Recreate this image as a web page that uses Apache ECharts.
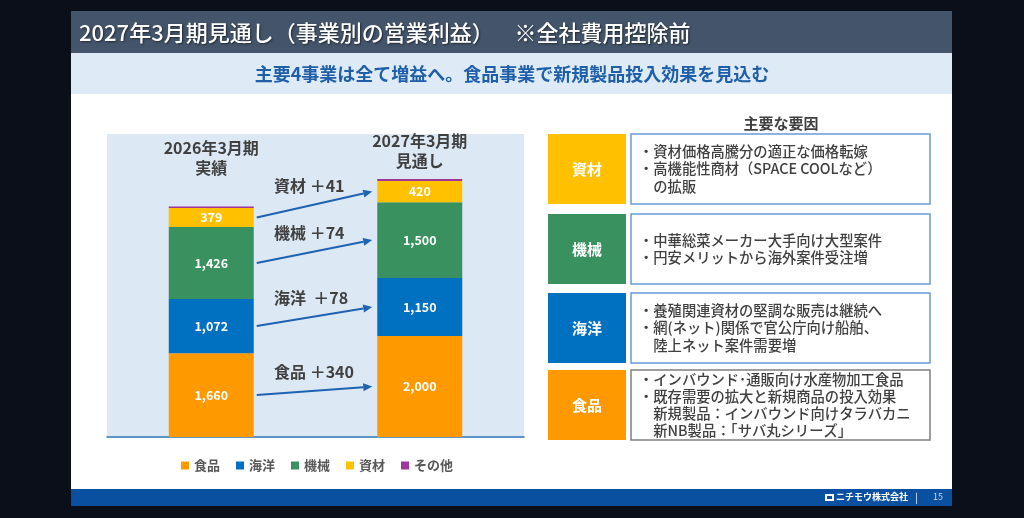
<!DOCTYPE html>
<html>
<head>
<meta charset="utf-8">
<script src="https://cdn.jsdelivr.net/npm/echarts@6/dist/echarts.min.js"></script>
<style>
  html, body { margin: 0; padding: 0; background: #0a0f1a; }
  #main { width: 1024px; height: 518px; }
</style>
</head>
<body>
<div id="main"></div>
<script>
// 期間（カテゴリ）
const periods = ['2026年3月期', '2027年3月期'];
const periodSubs = ['実績', '見通し'];
// 事業別営業利益（百万円）
const segmentNames = ['食品', '海洋', '機械', '資材', 'その他'];
const foodValues = [1660, 2000];
const marineValues = [1072, 1150];
const machineValues = [1426, 1500];
const materialValues = [379, 420];
const otherValues = [28, 40];
const segmentColors = ['#ff9900', '#0070c0', '#3a9160', '#ffc000', '#a0359c'];

// 主要な要因
const factorNames = ['資材', '機械', '海洋', '食品'];
const factorColors = ['#ffc000', '#3a9160', '#0070c0', '#ff9900'];
const factorTexts = [
    ['・資材価格高騰分の適正な価格転嫁', '・高機能性商材（SPACE COOLなど）', '　の拡販'],
    ['・中華総菜メーカー大手向け大型案件', '・円安メリットから海外案件受注増'],
    ['・養殖関連資材の堅調な販売は継続へ', '・網(ネット)関係で官公庁向け船舶、', '　陸上ネット案件需要増'],
    ['・インバウンド･通販向け水産物加工食品', '・既存需要の拡大と新規商品の投入効果', '　新規製品：インバウンド向けタラバカニ', '　新NB製品：「サバ丸シリーズ」']
];

const FONT = '"Noto Sans CJK JP", "Noto Sans", sans-serif';
const chart = echarts.init(document.getElementById('main'));

const seriesValues = [foodValues, marineValues, machineValues, materialValues, otherValues];
const BAR_W = 85;

const series = seriesValues.map((vals, i) => ({
    name: segmentNames[i],
    type: 'bar',
    stack: 'total',
    barWidth: BAR_W,
    data: vals,
    itemStyle: { color: segmentColors[i] },
    label: {
        show: i < 4,
        color: '#fff',
        fontFamily: FONT,
        fontWeight: 'bold',
        fontSize: 12.5,
        formatter: p => p.value.toLocaleString('en-US')
    }
}));

chart.setOption({
    animation: false,
    backgroundColor: '#0a0f1a',
    grid: {
        left: 107, right: 500, top: 134, bottom: 81,
        show: true, backgroundColor: '#dce9f5', borderWidth: 0
    },
    xAxis: {
        type: 'category',
        data: periods,
        axisLine: { show: true, lineStyle: { color: '#2e75b6', width: 1.5 } },
        axisTick: { show: false },
        axisLabel: { show: false }
    },
    yAxis: { type: 'value', min: 0, max: 6000, show: false, splitLine: { show: false } },
    legend: {
        data: segmentNames,
        left: 176, top: 454,
        icon: 'rect', itemWidth: 8, itemHeight: 8, itemGap: 16,
        textStyle: { color: '#595959', fontFamily: FONT, fontSize: 13, fontWeight: 'bold' }
    },
    series: series
});

// 静的な装飾
const graphics = [];
graphics.push({ type: 'rect', z: -100, shape: { x: 71, y: 11, width: 881, height: 495 }, style: { fill: '#ffffff' } });
graphics.push({ type: 'rect', z: -90, shape: { x: 71, y: 11, width: 881, height: 42 }, style: { fill: '#44546a' } });
graphics.push({ type: 'rect', z: -90, shape: { x: 71, y: 53, width: 881, height: 41 }, style: { fill: '#deebf7' } });
graphics.push({ type: 'rect', z: -90, shape: { x: 71, y: 489, width: 881, height: 17 }, style: { fill: '#0a50a1' } });
graphics.push({
    type: 'text', x: 79, y: 33,
    style: {
        text: '2027年3月期見通し（事業別の営業利益）　  ※全社費用控除前',
        fill: '#ffffff', font: '500 22px ' + FONT, textVerticalAlign: 'middle',
        textShadowColor: 'rgba(0,0,0,0.5)', textShadowBlur: 2, textShadowOffsetX: 1, textShadowOffsetY: 1
    }
});
graphics.push({
    type: 'text', x: 512, y: 74,
    style: {
        text: '主要4事業は全て増益へ。食品事業で新規製品投入効果を見込む',
        fill: '#1f5faa', font: 'bold 18px ' + FONT, textAlign: 'center', textVerticalAlign: 'middle'
    }
});
// フッター
graphics.push({ type: 'rect', shape: { x: 825, y: 494, width: 9, height: 7 }, style: { fill: '#ffffff' } });
graphics.push({ type: 'rect', shape: { x: 827, y: 496, width: 5, height: 3 }, style: { fill: '#0a50a1' } });
graphics.push({
    type: 'text', x: 836, y: 497,
    style: { text: 'ニチモウ株式会社', fill: '#ffffff', font: 'bold 9px ' + FONT, textVerticalAlign: 'middle' }
});
graphics.push({
    type: 'text', x: 915, y: 497,
    style: { text: '|', fill: '#ffffff', font: '10px ' + FONT, textVerticalAlign: 'middle' }
});
graphics.push({
    type: 'text', x: 933, y: 497,
    style: { text: '15', fill: '#c9d6ea', font: '9px ' + FONT, textVerticalAlign: 'middle' }
});

// 主要な要因
graphics.push({
    type: 'text', x: 781, y: 123,
    style: { text: '主要な要因', fill: '#404040', font: 'bold 15px ' + FONT, textAlign: 'center', textVerticalAlign: 'middle' }
});
const boxTops = [134, 214, 293, 370];
const BOX_H = 70;
factorNames.forEach((name, i) => {
    const y0 = boxTops[i];
    graphics.push({ type: 'rect', shape: { x: 548, y: y0, width: 78, height: BOX_H }, style: { fill: factorColors[i] } });
    graphics.push({
        type: 'text', x: 587, y: y0 + BOX_H / 2,
        style: { text: name, fill: '#ffffff', font: 'bold 15px ' + FONT, textAlign: 'center', textVerticalAlign: 'middle' }
    });
    graphics.push({
        type: 'rect', shape: { x: 631, y: y0, width: 299, height: BOX_H },
        style: { fill: '#ffffff', stroke: i < 3 ? '#6b9bd6' : '#7f7f7f', lineWidth: 1.5 }
    });
    const lines = factorTexts[i];
    const lh = lines.length === 4 ? 17 : 17.5;
    const startY = y0 + BOX_H / 2 - (lines.length - 1) * lh / 2;
    lines.forEach((t, k) => {
        graphics.push({
            type: 'text', x: 639, y: startY + k * lh,
            style: { text: t, fill: '#404040', font: '500 14.3px ' + FONT, textVerticalAlign: 'middle' }
        });
    });
});

// 列見出し・矢印（データ座標から算出）
const headerY = [[148, 168], [141, 161]];
periods.forEach((p, i) => {
    const px = chart.convertToPixel({ gridIndex: 0 }, [i, 0])[0];
    graphics.push({
        type: 'text', x: px, y: headerY[i][0],
        style: { text: p, fill: '#404040', font: 'bold 16px ' + FONT, textAlign: 'center', textVerticalAlign: 'middle' }
    });
    graphics.push({
        type: 'text', x: px, y: headerY[i][1],
        style: { text: periodSubs[i], fill: '#404040', font: 'bold 16px ' + FONT, textAlign: 'center', textVerticalAlign: 'middle' }
    });
});

const leftX = chart.convertToPixel({ gridIndex: 0 }, [0, 0])[0];
const rightX = chart.convertToPixel({ gridIndex: 0 }, [1, 0])[0];
function segMid(idx, seg) {
    let base = 0;
    for (let s = 0; s < seg; s++) base += seriesValues[s][idx];
    const mid = base + seriesValues[seg][idx] / 2;
    return chart.convertToPixel({ gridIndex: 0 }, [idx, mid])[1];
}
[0, 1, 2, 3].forEach(seg => {
    const x1 = leftX + BAR_W / 2 + 3;
    const x2 = rightX - BAR_W / 2 - 5;
    const y1 = segMid(0, seg);
    const y2 = segMid(1, seg);
    const ang = Math.atan2(y2 - y1, x2 - x1);
    const L = 9, W = 4;
    const bx = x2 - L * Math.cos(ang), by = y2 - L * Math.sin(ang);
    graphics.push({
        type: 'line', shape: { x1: x1, y1: y1, x2: bx, y2: by },
        style: { stroke: '#1f62b0', lineWidth: 2 }
    });
    graphics.push({
        type: 'polygon',
        shape: {
            points: [[x2, y2],
                [bx + W * Math.sin(ang), by - W * Math.cos(ang)],
                [bx - W * Math.sin(ang), by + W * Math.cos(ang)]]
        },
        style: { fill: '#1f62b0' }
    });
    const diff = seriesValues[seg][1] - seriesValues[seg][0];
    graphics.push({
        type: 'text', x: 274, y: (y1 + y2) / 2 - 19,
        style: {
            text: segmentNames[seg] + (seg === 1 ? '  ＋' : ' ＋') + diff,
            fill: '#404040', font: 'bold 16px ' + FONT, textVerticalAlign: 'middle'
        }
    });
});

chart.setOption({ graphic: graphics });

window.addEventListener('resize', () => chart.resize());
</script>
</body>
</html>
